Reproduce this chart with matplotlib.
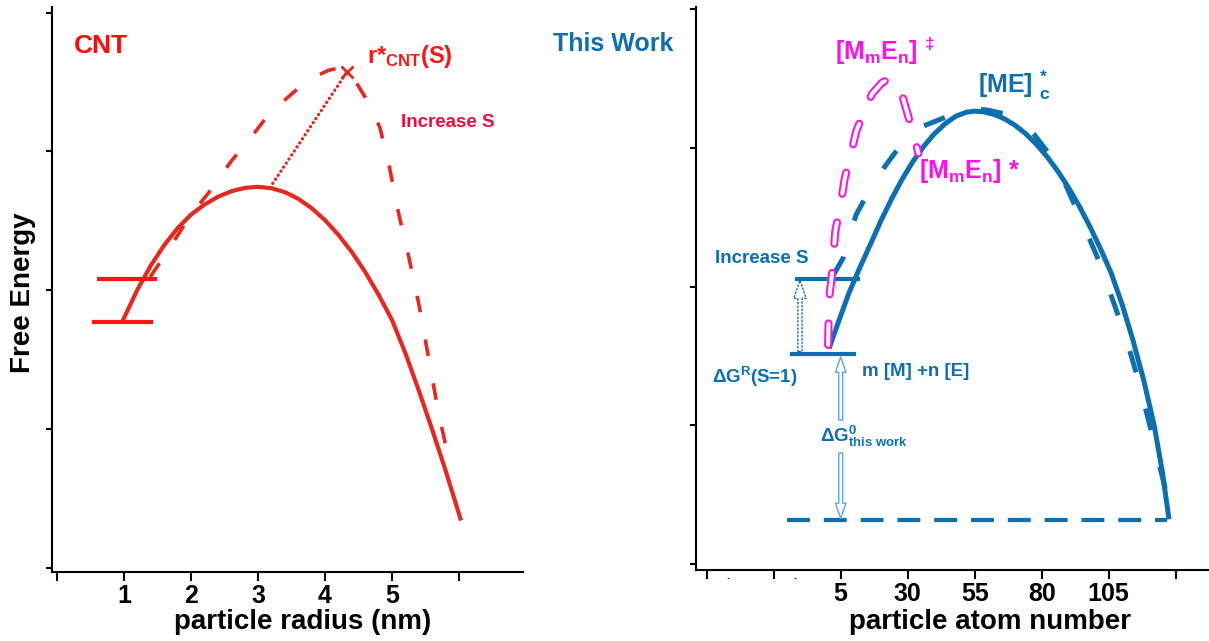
import matplotlib
matplotlib.use('Agg')
import matplotlib.pyplot as plt

plt.rcParams['font.family'] = 'Liberation Sans'
plt.rcParams['font.weight'] = 'bold'
plt.rcParams['axes.labelweight'] = 'bold'
plt.rcParams['mathtext.fontset'] = 'custom'
plt.rcParams['mathtext.rm'] = 'Liberation Sans:bold'
plt.rcParams['mathtext.it'] = 'Liberation Sans:bold'
plt.rcParams['mathtext.bf'] = 'Liberation Sans:bold'
plt.rcParams['mathtext.sf'] = 'Liberation Sans:bold'
plt.rcParams['lines.scale_dashes'] = False

# ---- left panel (CNT) data ----
radius_ticks = [0, 1, 2, 3, 4, 5, 6]
radius_labels = ['', '1', '2', '3', '4', '5', '']

cnt_x = [0.98, 1.2, 1.4, 1.6, 1.8, 2.0, 2.2, 2.4, 2.6, 2.8, 3.0, 3.2, 3.4, 3.6,
         3.8, 4.0, 4.2, 4.4, 4.6, 4.8, 5.0, 5.2, 5.4, 5.6, 5.8, 6.03]
cnt_y = [1.78, 2.004, 2.178, 2.325, 2.447, 2.545, 2.617, 2.673, 2.713, 2.737, 2.745, 2.735,
         2.707, 2.659, 2.591, 2.505, 2.399, 2.275, 2.131, 1.967, 1.785, 1.545, 1.276, 0.994,
         0.699, 0.34]

cnt_s_x = [1.39, 1.6, 2.0, 2.3, 2.6, 2.9, 3.1, 3.3, 3.6, 3.9, 4.05, 4.2, 4.3, 4.4, 4.5,
           4.6, 4.7, 4.82, 4.96, 5.1, 5.25, 5.4, 5.55, 5.7, 5.83]
cnt_s_y = [2.095, 2.245, 2.545, 2.725, 2.93, 3.105, 3.23, 3.33, 3.455, 3.55, 3.585, 3.60,
           3.585, 3.545, 3.47, 3.39, 3.30, 3.17, 2.89, 2.55, 2.24, 1.90, 1.50, 1.10, 0.82]

rstar_x = [3.22, 4.33]
rstar_y = [2.77, 3.575]

cnt_bar_hi_x = [0.62, 1.46]
cnt_bar_hi_y = 2.082
cnt_bar_lo_x = [0.55, 1.40]
cnt_bar_lo_y = 1.773

# ---- right panel (this work) data ----
atom_ticks = [-45, -20, 5, 30, 55, 80, 105, 130]
atom_labels = ['', '', '5', '30', '55', '80', '105', '']
atom_dots = [-37, -12]

tw_x = [0.67, 4, 8, 12, 16, 20, 24, 28, 32, 36, 40, 44, 48, 52, 55, 58, 62, 66, 70,
        74, 78, 82, 86, 90, 94, 98, 102, 106, 110, 114, 118, 122, 125, 127.5]
tw_y = [1.555, 1.737, 1.950, 2.131, 2.301, 2.474, 2.632, 2.776, 2.903, 3.011, 3.102, 3.174,
        3.228, 3.257, 3.264, 3.260, 3.242, 3.210, 3.163, 3.102, 3.026, 2.936, 2.832, 2.713,
        2.580, 2.432, 2.270, 2.094, 1.872, 1.617, 1.331, 0.997, 0.667, 0.324]

tw_s_x = [2.1, 5.9, 10.7, 17.8, 26.0, 35.7, 43.2, 47.5, 51.4, 55.5, 59.6, 64.5, 69.3, 73.0,
          77.0, 83.0, 89.0, 95.0, 101.0, 106.0, 111.0, 116.0, 121.0, 125.0, 128.5]
tw_s_y = [2.076, 2.206, 2.516, 2.768, 2.984, 3.156, 3.213, 3.248, 3.272, 3.280, 3.272, 3.252,
          3.224, 3.17, 3.10, 2.95, 2.73, 2.47, 2.20, 1.93, 1.66, 1.33, 0.95, 0.63, 0.36]

ts_x = [0.3, 0.6, 2.1, 2.9, 5.0, 6.5, 8.7, 10.8, 13.7, 16.7, 20.4, 23.0, 25.5, 28.2, 31.8, 34.0]
ts_y = [1.58, 1.90, 2.15, 2.39, 2.60, 2.78, 2.95, 3.12, 3.26, 3.39, 3.47, 3.495, 3.46, 3.36,
        3.12, 2.96]

tw_bar_hi_x = [-11.4, 11.6]
tw_bar_hi_y = 2.055
tw_bar_lo_x = [-13.3, 10.0]
tw_bar_lo_y = 1.512
base_x = [-15.0, 126.8]
base_y = 0.318

RED = '#e8271f'
RED_BAR = '#ff1414'
CRIMSON = '#ec0f3c'
BLUE = '#0b6fb1'
LIGHT = '#5ea6dc'
MAG = '#ff10e8'

W, H = 1209, 641
fig = plt.figure(figsize=(W / 100, H / 100), dpi=100)


def style_axes(ax):
    for s in ['top', 'right']:
        ax.spines[s].set_visible(False)
    for s in ['left', 'bottom']:
        ax.spines[s].set_linewidth(1.5)
    ax.set_yticks(range(5))
    ax.set_yticklabels([])
    ax.tick_params(axis='x', length=6.5, width=1.5, pad=2.2, labelsize=18)
    ax.tick_params(axis='y', length=4.3, width=1.5)


# ----- left panel -----
ax1 = fig.add_axes([52 / W, (H - 571.7) / H, 471 / W, 564.7 / H])
style_axes(ax1)
ax1.set_xlim(-0.0746, 6.955)
ax1.set_ylim(-0.0288, 4.0411)
ax1.set_xticks(radius_ticks)
ax1.set_xticklabels(radius_labels)

ax1.plot(cnt_s_x, cnt_s_y, color=RED, lw=2.6, dashes=(12, 20), dash_capstyle='butt')
ax1.plot(cnt_x, cnt_y, color=RED, lw=3.0, solid_capstyle='butt', solid_joinstyle='round')
ax1.plot(cnt_bar_hi_x, [cnt_bar_hi_y] * 2, color=RED_BAR, lw=3.0)
ax1.plot(cnt_bar_lo_x, [cnt_bar_lo_y] * 2, color=RED_BAR, lw=3.0)
ax1.plot(rstar_x, rstar_y, color=RED, lw=2.4, dashes=(0.1, 3.4), dash_capstyle='round')
ax1.plot(rstar_x[-1:], rstar_y[-1:], color=RED, marker='x', ms=8, mew=2)

ax1.text(4.622, 3.635, r'r*$_{\mathrm{CNT}}$(S)', color=RED_BAR, fontsize=17,
         ha='left', va='baseline')
ax1.text(5.13, 3.178, 'Increase S', color=CRIMSON, fontsize=13.5, ha='left', va='baseline')

ax1.set_xlabel('particle radius (nm)', fontsize=20)
ax1.xaxis.set_label_coords(0.533, -0.066)
ax1.set_ylabel('Free Energy', fontsize=20)
ax1.yaxis.set_label_coords(-0.034, 0.4935)

# ----- right panel -----
ax2 = fig.add_axes([696 / W, (H - 570) / H, 512 / W, 563 / H])
style_axes(ax2)
ax2.set_xlim(-48.99, 142.05)
ax2.set_ylim(-0.0418, 4.0144)
ax2.set_xticks(atom_ticks)
ax2.set_xticklabels(atom_labels)
ax2.set_xticks(atom_dots, minor=True)
ax2.set_xticklabels(['.'] * len(atom_dots), minor=True, fontsize=8)
ax2.tick_params(axis='x', which='minor', length=0, pad=1)

ax2.plot(base_x, [base_y] * 2, color=BLUE, lw=3.0, dashes=(16.5, 10))
ax2.plot(tw_s_x, tw_s_y, color=BLUE, lw=3.6, dashes=(16, 27))
ax2.plot(tw_x, tw_y, color=BLUE, lw=3.6, solid_capstyle='butt', solid_joinstyle='round')
ax2.plot(tw_bar_hi_x, [tw_bar_hi_y] * 2, color=BLUE, lw=3.0)
ax2.plot(tw_bar_lo_x, [tw_bar_lo_y] * 2, color=BLUE, lw=3.0)

# hollow magenta dashes: thick magenta line with a thin white line on top
ax2.plot(ts_x, ts_y, color=MAG, lw=5.8, dashes=(15.5, 21), dash_capstyle='round', zorder=5)
ax2.plot(ts_x, ts_y, color='white', lw=2.9, dashes=(15.5, 21), dash_capstyle='round', zorder=6)

# increase S (dotted hollow arrow)
ax2.annotate('', xy=(-10.2, tw_bar_hi_y - 0.01), xytext=(-10.2, tw_bar_lo_y + 0.02),
             arrowprops=dict(arrowstyle='simple,head_length=0.65,head_width=0.45,tail_width=0.15',
                             fc='white', ec=BLUE, lw=1.0, ls=':', shrinkA=0, shrinkB=0,
                             mutation_scale=20))
# delta G0 arrows
ax2.annotate('', xy=(5.0, 1.493), xytext=(5.0, 1.039),
             arrowprops=dict(arrowstyle='simple,head_length=0.55,head_width=0.38,tail_width=0.14',
                             fc='white', ec=LIGHT, lw=1.0, shrinkA=0, shrinkB=0,
                             mutation_scale=20))
ax2.annotate('', xy=(5.0, 0.33), xytext=(5.0, 0.801),
             arrowprops=dict(arrowstyle='simple,head_length=0.55,head_width=0.38,tail_width=0.14',
                             fc='white', ec=LIGHT, lw=1.0, shrinkA=0, shrinkB=0,
                             mutation_scale=20))

ax2.text(2.87, 3.632, r'[M$_{\mathrm{m}}$E$_{\mathrm{n}}$] $^{\ddag}$', color=MAG, fontsize=18,
         ha='left', va='baseline')
ax2.text(34.2, 2.780, r'[M$_{\mathrm{m}}$E$_{\mathrm{n}}$] *', color=MAG, fontsize=18,
         ha='left', va='baseline', zorder=7)
ax2.text(56.1, 3.393, r'[ME] $_{\mathrm{c}}^{*}$', color=BLUE, fontsize=18,
         ha='left', va='baseline')
ax2.text(-41.9, 2.170, 'Increase S', color=BLUE, fontsize=13.5, ha='left', va='baseline')
ax2.text(13.06, 1.356, 'm [M] +n [E]', color=BLUE, fontsize=13.5, ha='left', va='baseline')
ax2.text(-43.1, 1.303, r'ΔG$^{\mathrm{R}}$(S=1)', color=BLUE, fontsize=13.5,
         ha='left', va='baseline')
ax2.text(-2.7, 0.883, r'ΔG$^{\mathrm{0}}_{\mathrm{this\ work}}$', color=BLUE, fontsize=13.5,
         ha='left', va='baseline')

ax2.set_xlabel('particle atom number', fontsize=20)
ax2.xaxis.set_label_coords(0.574, -0.069)

fig.text(74 / W, 1 - 53.3 / H, 'CNT', color='#ff0a0a', fontsize=19, ha='left', va='baseline')
fig.text(553 / W, 1 - 51 / H, 'This Work', color=BLUE, fontsize=18, ha='left', va='baseline')

fig.savefig('out.png', dpi=100)
